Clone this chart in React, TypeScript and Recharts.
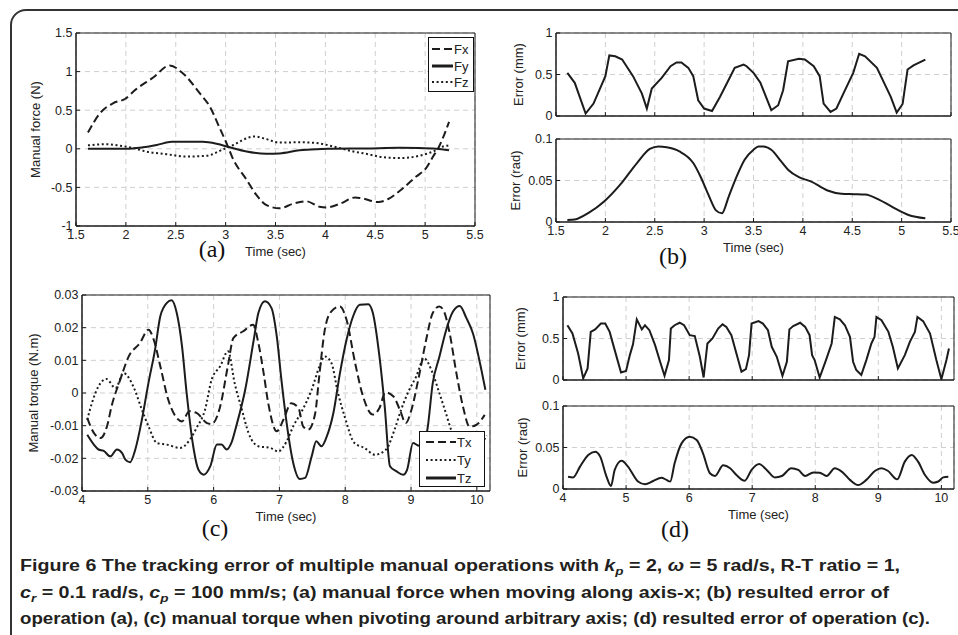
import { LineChart, Line, XAxis, YAxis, CartesianGrid, Legend, ReferenceArea } from 'recharts'

type Pt = [number, number]

// (a) manual force, time in sec
const fx: Pt[] = [
  [1.62, 0.21], [1.74, 0.46], [1.87, 0.59], [1.99, 0.645], [2.1, 0.77], [2.27, 0.92], [2.44, 1.08],
  [2.57, 0.98], [2.74, 0.72], [2.84, 0.55], [2.94, 0.27], [3.01, 0.07], [3.07, -0.12], [3.21, -0.4],
  [3.31, -0.6], [3.41, -0.73], [3.54, -0.77], [3.68, -0.71], [3.81, -0.68], [3.94, -0.75], [4.01, -0.76],
  [4.15, -0.71], [4.3, -0.63], [4.36, -0.64], [4.53, -0.69], [4.63, -0.65], [4.75, -0.54], [4.91, -0.36],
  [5.01, -0.25], [5.08, -0.1], [5.14, 0.03], [5.24, 0.35],
]
const fy: Pt[] = [
  [1.62, 0], [2.0, 0], [2.17, 0.02], [2.31, 0.05], [2.46, 0.09], [2.64, 0.09], [2.77, 0.09], [2.91, 0.065],
  [3.04, 0.02], [3.21, -0.035], [3.41, -0.065], [3.54, -0.06], [3.74, -0.02], [3.91, -0.005], [4.08, 0],
  [4.41, 0.005], [4.74, 0.013], [4.94, 0.01], [5.11, 0], [5.24, -0.02],
]
const fz: Pt[] = [
  [1.62, 0.045], [1.8, 0.06], [1.94, 0.04], [2.07, 0.012], [2.2, -0.035], [2.41, -0.07], [2.6, -0.1],
  [2.81, -0.09], [2.97, -0.01], [3.08, 0.05], [3.18, 0.12], [3.29, 0.16], [3.41, 0.125], [3.54, 0.08],
  [3.74, 0.085], [3.91, 0.075], [4.08, 0.03], [4.28, -0.035], [4.41, -0.065], [4.58, -0.11], [4.75, -0.12],
  [4.94, -0.09], [5.08, -0.035], [5.18, 0.03], [5.24, 0.045],
]

// (b) resulted error of (a)
const bMm: Pt[] = [
  [1.615, 0.52], [1.69, 0.4], [1.8, 0.03], [1.88, 0.15], [2.0, 0.48], [2.04, 0.73], [2.1, 0.72], [2.17, 0.68],
  [2.28, 0.48], [2.37, 0.27], [2.42, 0.09], [2.47, 0.33], [2.57, 0.46], [2.66, 0.6], [2.72, 0.645], [2.77, 0.645],
  [2.84, 0.58], [2.89, 0.48], [2.94, 0.19], [3.0, 0.09], [3.08, 0.06], [3.16, 0.23], [3.25, 0.44], [3.31, 0.58],
  [3.4, 0.62], [3.43, 0.6], [3.5, 0.52], [3.57, 0.4], [3.68, 0.07], [3.75, 0.13], [3.8, 0.31], [3.85, 0.66],
  [3.96, 0.69], [4.02, 0.68], [4.11, 0.6], [4.17, 0.48], [4.21, 0.15], [4.28, 0.05], [4.34, 0.09], [4.41, 0.27],
  [4.51, 0.52], [4.57, 0.75], [4.63, 0.72], [4.75, 0.58], [4.89, 0.23], [4.95, 0.04], [5.01, 0.145], [5.06, 0.56],
  [5.12, 0.61], [5.24, 0.68],
]
const bRad: Pt[] = [
  [1.615, 0.0024], [1.69, 0.003], [1.83, 0.011], [1.99, 0.025], [2.15, 0.045], [2.32, 0.071], [2.45, 0.088],
  [2.54, 0.091], [2.62, 0.09], [2.75, 0.085], [2.89, 0.071], [2.97, 0.053], [3.05, 0.031], [3.12, 0.014],
  [3.18, 0.0105], [3.25, 0.031], [3.33, 0.055], [3.41, 0.075], [3.5, 0.087], [3.55, 0.091], [3.6, 0.091],
  [3.68, 0.087], [3.78, 0.073], [3.85, 0.063], [3.96, 0.054], [4.08, 0.049], [4.25, 0.038], [4.39, 0.034],
  [4.52, 0.0335], [4.63, 0.033], [4.77, 0.027], [4.9, 0.0185], [5.07, 0.0085], [5.24, 0.0045],
]

// (c) manual torque
const tx: Pt[] = [
  [4.08, -0.0077], [4.18, -0.0122], [4.28, -0.0138], [4.38, -0.0102], [4.45, -0.004], [4.58, 0.004],
  [4.71, 0.0112], [4.88, 0.0153], [5.01, 0.0194], [5.09, 0.0163], [5.19, 0.0082], [5.31, -0.002],
  [5.42, -0.0071], [5.52, -0.0087], [5.63, -0.0056], [5.74, -0.0061], [5.9, -0.0092], [5.97, -0.0095],
  [6.1, -0.0041], [6.22, 0.0087], [6.3, 0.0168], [6.45, 0.0189], [6.6, 0.0209], [6.68, 0.0153],
  [6.76, 0.0061], [6.83, -0.0031], [6.96, -0.0117], [7.06, -0.0082], [7.18, -0.0031], [7.29, -0.0046],
  [7.36, -0.0102], [7.44, -0.0112], [7.54, -0.0066], [7.61, 0.0061], [7.69, 0.0194], [7.79, 0.025],
  [7.92, 0.0265], [8.02, 0.0224], [8.15, 0.0092], [8.27, -0.001], [8.42, -0.0066], [8.52, -0.0046],
  [8.61, 0.0002], [8.73, -0.001], [8.83, -0.0051], [8.92, -0.0092], [9.0, -0.0056], [9.11, 0.0041],
  [9.23, 0.0163], [9.33, 0.0245], [9.43, 0.0265], [9.5, 0.025], [9.58, 0.019], [9.69, 0.006],
  [9.79, -0.0042], [9.89, -0.0103], [9.99, -0.0098], [10.12, -0.0067],
]
const ty: Pt[] = [
  [4.08, -0.0082], [4.15, -0.0031], [4.25, 0.002], [4.37, 0.0043], [4.51, 0.0015], [4.63, 0.0061],
  [4.78, 0.002], [4.91, -0.0051], [5.01, -0.0102], [5.14, -0.0153], [5.29, -0.0158], [5.49, -0.0168],
  [5.64, -0.0143], [5.74, -0.0107], [5.87, -0.0051], [5.97, 0.0041], [6.1, 0.0082], [6.22, 0.0128],
  [6.32, 0.003], [6.43, -0.0051], [6.53, -0.0122], [6.68, -0.0163], [6.86, -0.0168], [6.98, -0.0179],
  [7.11, -0.0148], [7.21, -0.0102], [7.34, -0.0056], [7.49, 0.001], [7.61, 0.0082], [7.69, 0.0112],
  [7.79, 0.0092], [7.89, 0], [7.99, -0.0071], [8.14, -0.0153], [8.29, -0.0168], [8.45, -0.0189],
  [8.62, -0.0173], [8.75, -0.0112], [8.85, -0.0051], [8.95, 0], [9.08, 0.0051], [9.2, 0.0106],
  [9.31, 0.007], [9.43, 0], [9.53, -0.0062], [9.61, -0.0113], [9.75, -0.0165], [9.9, -0.0175],
  [10.05, -0.016], [10.15, -0.013],
]
const tz: Pt[] = [
  [4.08, -0.0128], [4.18, -0.0158], [4.25, -0.0173], [4.33, -0.0177], [4.43, -0.0194], [4.53, -0.0173],
  [4.61, -0.0184], [4.66, -0.0204], [4.73, -0.0212], [4.81, -0.0173], [4.91, -0.0082], [5.01, 0.0031],
  [5.11, 0.0133], [5.19, 0.0235], [5.29, 0.0276], [5.36, 0.0284], [5.44, 0.0245], [5.52, 0.0143],
  [5.59, 0], [5.69, -0.0163], [5.77, -0.0235], [5.85, -0.025], [5.95, -0.0224], [6.05, -0.0158],
  [6.12, -0.0158], [6.2, -0.0173], [6.27, -0.0153], [6.35, -0.0097], [6.48, 0.001], [6.61, 0.0163],
  [6.68, 0.0245], [6.78, 0.0281], [6.88, 0.026], [6.96, 0.0173], [7.03, 0.0041], [7.11, -0.0092],
  [7.21, -0.0214], [7.31, -0.0263], [7.39, -0.026], [7.49, -0.0194], [7.56, -0.0148], [7.64, -0.0163],
  [7.72, -0.0133], [7.82, -0.0061], [7.92, 0.0061], [8.02, 0.0163], [8.12, 0.0235], [8.22, 0.027],
  [8.35, 0.0272], [8.42, 0.0245], [8.52, 0.0112], [8.6, -0.0041], [8.68, -0.0224], [8.78, -0.024],
  [8.88, -0.025], [8.94, -0.0235], [9.03, -0.0153], [9.1, -0.016], [9.18, -0.0165], [9.25, -0.011],
  [9.33, 0.003], [9.43, 0.011], [9.53, 0.019], [9.64, 0.025], [9.74, 0.0266], [9.84, 0.023],
  [9.94, 0.0183], [10.07, 0.007], [10.13, 0.001],
]

// (d) resulted error of (c)
const dMm: Pt[] = [
  [4.07, 0.66], [4.15, 0.56], [4.24, 0.32], [4.32, 0.02], [4.39, 0.14], [4.44, 0.58], [4.51, 0.61], [4.6, 0.68],
  [4.67, 0.68], [4.74, 0.58], [4.82, 0.36], [4.92, 0.09], [5.0, 0.11], [5.06, 0.3], [5.11, 0.43], [5.17, 0.73],
  [5.25, 0.61], [5.3, 0.66], [5.37, 0.6], [5.46, 0.42], [5.54, 0.22], [5.61, 0.05], [5.68, 0.24], [5.71, 0.62],
  [5.77, 0.66], [5.85, 0.69], [5.92, 0.66], [6.01, 0.54], [6.09, 0.53], [6.17, 0.28], [6.23, 0.03], [6.29, 0.44],
  [6.37, 0.5], [6.46, 0.62], [6.53, 0.67], [6.59, 0.64], [6.67, 0.54], [6.75, 0.32], [6.83, 0.1], [6.9, 0.13],
  [6.95, 0.3], [6.99, 0.68], [7.1, 0.71], [7.17, 0.68], [7.25, 0.6], [7.31, 0.4], [7.39, 0.28], [7.48, 0.05],
  [7.55, 0.22], [7.59, 0.61], [7.65, 0.65], [7.76, 0.69], [7.84, 0.64], [7.91, 0.54], [7.95, 0.3], [7.99, 0.24],
  [8.07, 0.03], [8.17, 0.24], [8.26, 0.44], [8.31, 0.76], [8.39, 0.73], [8.47, 0.66], [8.55, 0.52], [8.6, 0.22],
  [8.65, 0.12], [8.73, 0.06], [8.81, 0.24], [8.89, 0.44], [8.94, 0.52], [8.97, 0.76], [9.05, 0.72], [9.16, 0.58],
  [9.23, 0.4], [9.31, 0.14], [9.42, 0.3], [9.5, 0.46], [9.58, 0.58], [9.62, 0.76], [9.71, 0.71], [9.82, 0.56],
  [9.92, 0.24], [10.0, 0.01], [10.08, 0.24], [10.12, 0.38],
]
const dRad: Pt[] = [
  [4.08, 0.0148], [4.16, 0.014], [4.27, 0.027], [4.4, 0.041], [4.51, 0.045], [4.59, 0.039], [4.69, 0.015],
  [4.76, 0.0036], [4.82, 0.023], [4.93, 0.034], [5.03, 0.027], [5.19, 0.009], [5.3, 0.0057], [5.43, 0.0096],
  [5.56, 0.0136], [5.64, 0.011], [5.7, 0.009], [5.77, 0.031], [5.88, 0.055], [6.01, 0.063], [6.12, 0.059],
  [6.22, 0.043], [6.33, 0.019], [6.41, 0.0157], [6.54, 0.0285], [6.65, 0.025], [6.75, 0.0169], [6.88, 0.01],
  [6.99, 0.023], [7.11, 0.03], [7.23, 0.023], [7.36, 0.014], [7.47, 0.0157], [7.62, 0.025], [7.73, 0.023],
  [7.84, 0.0157], [7.97, 0.02], [8.07, 0.0197], [8.18, 0.0157], [8.31, 0.025], [8.42, 0.021], [8.55, 0.011],
  [8.68, 0.0048], [8.81, 0.011], [8.95, 0.022], [9.05, 0.025], [9.15, 0.022], [9.3, 0.0117], [9.42, 0.033],
  [9.53, 0.041], [9.63, 0.033], [9.74, 0.0169], [9.87, 0.0076], [9.95, 0.009], [10.03, 0.014], [10.11, 0.0148],
]

const timeTicksA = [1.5, 2, 2.5, 3, 3.5, 4, 4.5, 5, 5.5]
const timeTicksC = [4, 5, 6, 7, 8, 9, 10]
const forceTicks = [-1, -0.5, 0, 0.5, 1, 1.5]
const torqueTicks = [-0.03, -0.02, -0.01, 0, 0.01, 0.02, 0.03]
const mmTicks = [0, 0.5, 1]
const radTicks = [0, 0.05, 0.1]

const INK = '#1c1c1c'
const SANS = '"Liberation Sans", Arial, sans-serif'
const tickStyle = { fontSize: 12.5, fill: '#222', fontFamily: SANS }
const YW = 70
const MT = 6
const MR = 12

const DASH = '8 4'
const DOT = '2 2.6'

interface Series {
  name: string
  data: Pt[]
  dash?: string
  curve?: 'monotone' | 'linear'
}

interface LegendBox {
  x: number
  y: number
  w: number
  h: number
  sampleX: number
  sampleW: number
  rows: number[]
}

interface PanelProps {
  left: number
  top: number
  w: number
  h: number
  xDomain: [number, number]
  xTicks: number[]
  yDomain: [number, number]
  yTicks: number[]
  showX: boolean
  yTitle: string
  yTitleGap: number
  series: Series[]
  legend?: LegendBox
}

function LegendView({ box, series }: { box: LegendBox; series: Series[] }) {
  return (
    <div style={{ position: 'relative', width: box.w, height: box.h, boxSizing: 'border-box', border: '1px solid #111', background: '#fff' }}>
      {series.map((s, i) => (
        <div key={s.name} style={{ position: 'absolute', left: 0, top: box.rows[i] - 8, height: 16, display: 'flex', alignItems: 'center' }}>
          <svg width={box.sampleX + box.sampleW} height={16} style={{ display: 'block' }}>
            <line x1={box.sampleX} x2={box.sampleX + box.sampleW} y1={8} y2={8} stroke={INK}
              strokeWidth={s.dash ? 2 : 3} strokeDasharray={s.dash} />
          </svg>
          <span style={{ fontFamily: SANS, fontSize: 13, color: '#222', marginLeft: 1 }}>{s.name}</span>
        </div>
      ))}
    </div>
  )
}

function Panel(p: PanelProps) {
  const XH = p.showX ? 40 : 6
  const ox = p.left - YW
  const oy = p.top - MT
  const rows = (pts: Pt[]) => pts.map(([t, v]) => ({ t, v }))
  return (
    <div style={{ position: 'absolute', left: ox, top: oy }}>
      <LineChart width={YW + p.w + MR} height={MT + p.h + XH} margin={{ top: MT, right: MR, left: 0, bottom: 0 }}>
        <CartesianGrid stroke="#cfcfcf" strokeDasharray="5 4" />
        <XAxis
          type="number"
          dataKey="t"
          domain={p.xDomain}
          ticks={p.xTicks}
          interval={0}
          allowDataOverflow
          height={XH}
          stroke={INK}
          tickSize={-4}
          tickMargin={8}
          tick={tickStyle}
          tickFormatter={p.showX ? undefined : () => ''}
          label={p.showX ? { value: 'Time (sec)', position: 'insideBottom', offset: 10, style: { fontSize: 13, fill: '#222', fontFamily: SANS } } : undefined}
        />
        <XAxis xAxisId="top" orientation="top" mirror type="number" dataKey="t" domain={p.xDomain} ticks={p.xTicks}
          interval={0} allowDataOverflow height={0} stroke={INK} tickSize={4} tickFormatter={() => ''} />
        <YAxis
          type="number"
          domain={p.yDomain}
          ticks={p.yTicks}
          interval={0}
          allowDataOverflow
          width={YW}
          stroke={INK}
          tickSize={-4}
          tickMargin={7.5}
          tick={tickStyle}
          label={{ value: p.yTitle, angle: -90, position: 'insideLeft', offset: YW - p.yTitleGap, style: { textAnchor: 'middle', fontSize: 13, fill: '#222', fontFamily: SANS } }}
        />
        <YAxis yAxisId="right" orientation="right" mirror type="number" domain={p.yDomain} ticks={p.yTicks}
          interval={0} allowDataOverflow width={0} stroke={INK} tickSize={4} tickFormatter={() => ''} />
        <ReferenceArea x1={p.xDomain[0]} x2={p.xDomain[1]} y1={p.yDomain[0]} y2={p.yDomain[1]}
          fill="none" fillOpacity={0} stroke={INK} strokeWidth={1} ifOverflow="visible" />
        {/* carries the top and right axes so their inward ticks are drawn */}
        <Line xAxisId="top" yAxisId="right" data={rows(p.series[0].data)} dataKey="v" stroke="none"
          dot={false} activeDot={false} legendType="none" isAnimationActive={false} />
        {p.series.map((s) => (
          <Line
            key={s.name}
            data={rows(s.data)}
            dataKey="v"
            name={s.name}
            type={s.curve ?? 'monotone'}
            stroke={INK}
            strokeWidth={2}
            strokeDasharray={s.dash}
            dot={false}
            activeDot={false}
            isAnimationActive={false}
          />
        ))}
        {p.legend && (
          <Legend
            layout="vertical"
            align="center"
            verticalAlign="middle"
            wrapperStyle={{ left: p.legend.x - ox, top: p.legend.y - oy, width: p.legend.w, height: p.legend.h }}
            content={() => <LegendView box={p.legend as LegendBox} series={p.series} />}
          />
        )}
      </LineChart>
    </div>
  )
}

function Tag({ x, y, text }: { x: number; y: number; text: string }) {
  return (
    <div style={{ position: 'absolute', left: x, top: y, transform: 'translate(-50%, -50%)', fontFamily: '"Liberation Serif", "Times New Roman", serif', fontSize: 24, lineHeight: 1, color: '#111' }}>
      {text}
    </div>
  )
}

export default function App() {
  return (
    <div style={{ position: 'absolute', left: 0, top: 0, width: 958, height: 635, overflow: 'hidden', background: '#fff' }}>
      <div style={{ position: 'absolute', left: 10, top: 9, width: 1000, height: 700, border: '2px solid #333', borderRadius: 16 }} />

      <Panel left={76} top={33} w={399} h={193} xDomain={[1.5, 5.5]} xTicks={timeTicksA} yDomain={[-1, 1.5]} yTicks={forceTicks}
        showX yTitle="Manual force (N)" yTitleGap={41}
        series={[{ name: 'Fx', data: fx, dash: DASH }, { name: 'Fy', data: fy }, { name: 'Fz', data: fz, dash: DOT }]}
        legend={{ x: 428, y: 37, w: 46, h: 55, sampleX: 3, sampleW: 21, rows: [11, 28, 44] }} />

      <Panel left={556} top={33} w={395} h={83} xDomain={[1.5, 5.5]} xTicks={timeTicksA} yDomain={[0, 1]} yTicks={mmTicks}
        showX={false} yTitle="Error (mm)" yTitleGap={38}
        series={[{ name: 'mm', data: bMm, curve: 'linear' }]} />

      <Panel left={556} top={139} w={395} h={83} xDomain={[1.5, 5.5]} xTicks={timeTicksA} yDomain={[0, 0.1]} yTicks={radTicks}
        showX yTitle="Error (rad)" yTitleGap={41}
        series={[{ name: 'rad', data: bRad }]} />

      <Panel left={82} top={295} w={408} h={196} xDomain={[4, 10.2]} xTicks={timeTicksC} yDomain={[-0.03, 0.03]} yTicks={torqueTicks}
        showX yTitle="Manual torque (N.m)" yTitleGap={49}
        series={[{ name: 'Tx', data: tx, dash: DASH }, { name: 'Ty', data: ty, dash: DOT }, { name: 'Tz', data: tz }]}
        legend={{ x: 419, y: 431, w: 66, h: 56, sampleX: 6, sampleW: 30, rows: [10, 28, 46] }} />

      <Panel left={563} top={297} w={391} h={83} xDomain={[4, 10.2]} xTicks={timeTicksC} yDomain={[0, 1]} yTicks={mmTicks}
        showX={false} yTitle="Error (mm)" yTitleGap={43}
        series={[{ name: 'mm', data: dMm, curve: 'linear' }]} />

      <Panel left={563} top={406} w={391} h={83} xDomain={[4, 10.2]} xTicks={timeTicksC} yDomain={[0, 0.1]} yTicks={radTicks}
        showX yTitle="Error (rad)" yTitleGap={41}
        series={[{ name: 'rad', data: dRad }]} />

      <Tag x={212} y={249} text="(a)" />
      <Tag x={673} y={256} text="(b)" />
      <Tag x={215} y={528} text="(c)" />
      <Tag x={675} y={529} text="(d)" />

      <svg style={{ position: 'absolute', left: 0, top: 550 }} width={958} height={85}>
        <g fontFamily={SANS} fontWeight="bold" fontSize={16} fill="#231f20">
          <text x={20} y={21} textLength={880} lengthAdjust="spacingAndGlyphs">
            Figure 6 The tracking error of multiple manual operations with{' '}
            <tspan fontStyle="italic">k</tspan>
            <tspan fontStyle="italic" fontSize={11} dy={4}>p</tspan>
            <tspan dy={-4}>{' = 2, '}</tspan>
            <tspan fontStyle="italic">ω</tspan>
            {' = 5 rad/s, R-T ratio = 1,'}
          </text>
          <text x={20} y={48} textLength={869} lengthAdjust="spacingAndGlyphs">
            <tspan fontStyle="italic">c</tspan>
            <tspan fontStyle="italic" fontSize={11} dy={4}>r</tspan>
            <tspan dy={-4}>{' = 0.1 rad/s, '}</tspan>
            <tspan fontStyle="italic">c</tspan>
            <tspan fontStyle="italic" fontSize={11} dy={4}>p</tspan>
            <tspan dy={-4}>{' = 100 mm/s; (a) manual force when moving along axis-x; (b) resulted error of'}</tspan>
          </text>
          <text x={20} y={74} textLength={910} lengthAdjust="spacingAndGlyphs">
            operation (a), (c) manual torque when pivoting around arbitrary axis; (d) resulted error of operation (c).
          </text>
        </g>
      </svg>
    </div>
  )
}
